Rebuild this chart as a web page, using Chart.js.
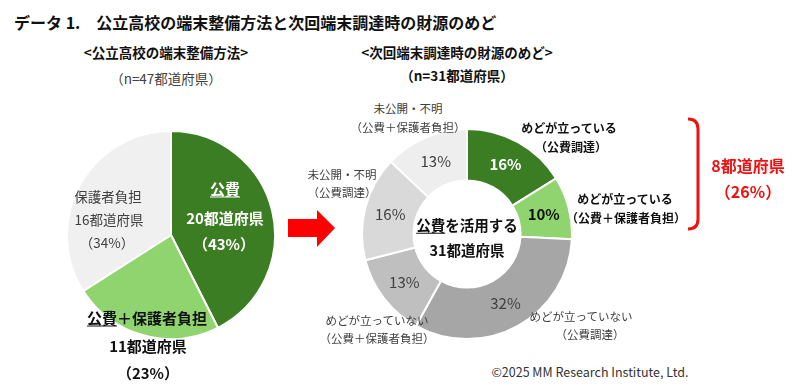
<!DOCTYPE html>
<html lang="ja">
<head>
<meta charset="utf-8">
<script src="https://cdn.jsdelivr.net/npm/chart.js@4.4.1/dist/chart.umd.min.js"></script>
<style>
  html, body { margin: 0; padding: 0; background: #fff; }
  body { width: 800px; height: 390px; position: relative; overflow: hidden;
         font-family: "Noto Sans CJK JP", "Noto Sans", sans-serif; color: #404040; }
  .t { position: absolute; white-space: nowrap; transform: translate(-50%, -50%); line-height: 1; }
  .b { font-weight: bold; }
  .w { color: #fff; }
  .k { color: #111; }
  .red { color: #ee1111; }
  u { text-underline-offset: 2px; }
  canvas { position: absolute; }
  #title { position: absolute; left: 14px; top: 10px; font-size: 16px; font-weight: bold; color: #111; white-space: nowrap; }
  #deco { position: absolute; left: 0; top: 0; }
</style>
</head>
<body>
<div id="title">データ 1.　公立高校の端末整備方法と次回端末調達時の財源のめど</div>

<div class="t b k" style="left:166px;top:53px;font-size:13.5px">&lt;公立高校の端末整備方法&gt;</div>
<div class="t" style="left:166px;top:79px;font-size:13.5px">（n=47都道府県）</div>
<div class="t b k" style="left:457px;top:53px;font-size:13.5px">&lt;次回端末調達時の財源のめど&gt;</div>
<div class="t b k" style="left:457px;top:76px;font-size:13.5px">（n=31都道府県）</div>

<canvas id="leftPie" width="210" height="210" style="left:66px;top:130px;width:210px;height:210px"></canvas>
<canvas id="rightDonut" width="212" height="212" style="left:361px;top:128px;width:212px;height:212px"></canvas>

<!-- left pie labels -->
<div class="t b w" style="left:225px;top:188px;font-size:15px"><u>公費</u></div>
<div class="t b w" id="lp0n" style="left:225px;top:217px;font-size:15px"></div>
<div class="t b w" id="lp0p" style="left:224px;top:243px;font-size:15px"></div>
<div class="t b k" style="left:147px;top:317px;font-size:15px"><u>公費</u>＋保護者負担</div>
<div class="t b k" id="lp1n" style="left:148px;top:345px;font-size:15px"></div>
<div class="t b k" id="lp1p" style="left:148px;top:372px;font-size:15px"></div>
<div class="t" style="left:108px;top:197px;font-size:13.5px">保護者負担</div>
<div class="t" id="lp2n" style="left:109px;top:220px;font-size:13.5px"></div>
<div class="t" id="lp2p" style="left:107px;top:243px;font-size:13.5px"></div>

<!-- donut center & outer labels -->
<div class="t b k" style="left:467px;top:225px;font-size:14.5px"><u>公費</u>を活用する</div>
<div class="t b k" style="left:467px;top:250px;font-size:14.5px">31都道府県</div>

<div class="t" style="left:408px;top:109px;font-size:11.5px">未公開・不明</div>
<div class="t" style="left:408px;top:128px;font-size:11.5px">（公費＋保護者負担）</div>
<div class="t" style="left:342px;top:175px;font-size:11.5px">未公開・不明</div>
<div class="t" style="left:342px;top:193px;font-size:11.5px">（公費調達）</div>
<div class="t b k" style="left:569px;top:128px;font-size:12px">めどが立っている</div>
<div class="t b k" style="left:571px;top:147px;font-size:12px">（公費調達）</div>
<div class="t b k" style="left:625px;top:199px;font-size:12px">めどが立っている</div>
<div class="t b k" style="left:626px;top:218px;font-size:12px">（公費＋保護者負担）</div>
<div class="t" style="left:377px;top:321px;font-size:11.5px">めどが立っていない</div>
<div class="t" style="left:377px;top:339px;font-size:11.5px">（公費＋保護者負担）</div>
<div class="t" style="left:581px;top:317px;font-size:11.5px">めどが立っていない</div>
<div class="t" style="left:590px;top:335px;font-size:11.5px">（公費調達）</div>

<div class="t b red" id="sumN" style="left:748px;top:165px;font-size:16px"></div>
<div class="t b red" id="sumP" style="left:748px;top:191px;font-size:16px"></div>

<div class="t" style="left:590px;top:372px;font-size:12.5px;color:#333">©2025 MM Research Institute, Ltd.</div>

<svg id="deco" width="800" height="390">
  <polygon points="288,219 317,219 317,210 335,228 317,247 317,237 288,237" fill="#ff0000"/>
  <path d="M688,119 Q698,119 698,129 L698,219 Q698,229 688,229" fill="none" stroke="#ee1111" stroke-width="3"/>
</svg>

<script>
// left pie: 公立高校の端末整備方法 (都道府県数)
const leftLabels = ['公費', '公費＋保護者負担', '保護者負担'];
const leftCounts = [20, 11, 16];
const leftColors = ['#3b7d23', '#8fd46f', '#f0f0f0'];

// right donut: 次回端末調達時の財源のめど (都道府県数)
const rightLabels = [
  'めどが立っている（公費調達）',
  'めどが立っている（公費＋保護者負担）',
  'めどが立っていない（公費調達）',
  'めどが立っていない（公費＋保護者負担）',
  '未公開・不明（公費調達）',
  '未公開・不明（公費＋保護者負担）'
];
const rightCounts = [5, 3, 10, 4, 5, 4];
const rightColors = ['#3b7d23', '#8fd46f', '#a6a6a6', '#bfbfbf', '#d9d9d9', '#eeeeee'];

const pct = (v, arr) => Math.round(v / arr.reduce((a, b) => a + b, 0) * 100);

// fill left pie labels from data
leftCounts.forEach((c, i) => {
  document.getElementById('lp' + i + 'n').textContent = c + '都道府県';
  document.getElementById('lp' + i + 'p').textContent = '（' + pct(c, leftCounts) + '%）';
});
const metCount = rightCounts[0] + rightCounts[1];
document.getElementById('sumN').textContent = metCount + '都道府県';
document.getElementById('sumP').textContent = '（' + pct(metCount, rightCounts) + '%）';

// percentage labels inside donut slices
const sliceLabels = {
  id: 'sliceLabels',
  afterDatasetsDraw(chart) {
    const ctx = chart.ctx;
    const data = chart.data.datasets[0].data;
    chart.getDatasetMeta(0).data.forEach((arc, i) => {
      const p = arc.tooltipPosition();
      ctx.save();
      ctx.font = (i < 2 ? 'bold ' : '') + '15px "Noto Sans CJK JP", "Noto Sans", sans-serif';
      ctx.fillStyle = i === 0 ? '#ffffff' : (i === 1 ? '#111111' : '#404040');
      ctx.textAlign = 'center';
      ctx.textBaseline = 'middle';
      ctx.fillText(pct(data[i], data) + '%', p.x, p.y);
      ctx.restore();
    });
  }
};

const baseOpts = {
  responsive: false,
  animation: false,
  events: [],
  layout: { padding: 0 },
  plugins: { legend: { display: false }, tooltip: { enabled: false } }
};

new Chart(document.getElementById('leftPie'), {
  type: 'pie',
  data: {
    labels: leftLabels,
    datasets: [{ data: leftCounts, backgroundColor: leftColors, borderColor: '#ffffff', borderWidth: 2, hoverOffset: 0 }]
  },
  options: baseOpts
});

new Chart(document.getElementById('rightDonut'), {
  type: 'doughnut',
  data: {
    labels: rightLabels,
    datasets: [{ data: rightCounts, backgroundColor: rightColors, borderColor: '#ffffff', borderWidth: 2, hoverOffset: 0 }]
  },
  options: { ...baseOpts, cutout: '51%' },
  plugins: [sliceLabels]
});
</script>
</body>
</html>
